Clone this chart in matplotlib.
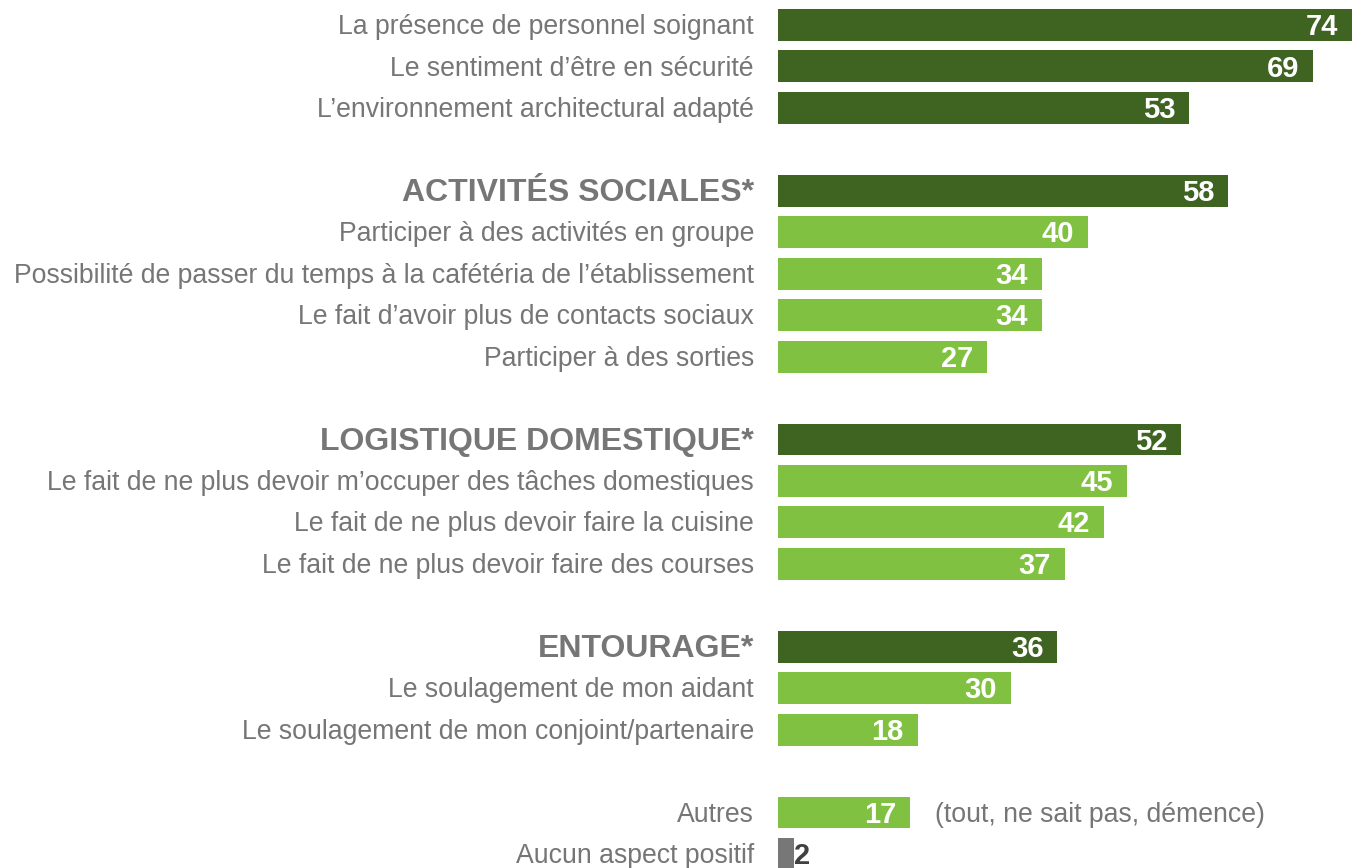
import matplotlib
matplotlib.use("Agg")
import matplotlib.pyplot as plt

plt.rcParams['font.family'] = ['Liberation Sans', 'DejaVu Sans']

# data, top to bottom
labels = [
    "La présence de personnel soignant",
    "Le sentiment d\u2019être en sécurité",
    "L\u2019environnement architectural adapté",
    "ACTIVITÉS SOCIALES*",
    "Participer à des activités en groupe",
    "Possibilité de passer du temps à la cafétéria de l\u2019établissement",
    "Le fait d\u2019avoir plus de contacts sociaux",
    "Participer à des sorties",
    "LOGISTIQUE DOMESTIQUE*",
    "Le fait de ne plus devoir m\u2019occuper des tâches domestiques",
    "Le fait de ne plus devoir faire la cuisine",
    "Le fait de ne plus devoir faire des courses",
    "ENTOURAGE*",
    "Le soulagement de mon aidant",
    "Le soulagement de mon conjoint/partenaire",
    "Autres",
    "Aucun aspect positif",
]
values = [74, 69, 53, 58, 40, 34, 34, 27, 52, 45, 42, 37, 36, 30, 18, 17, 2]
kinds = ["main", "main", "main", "head", "sub", "sub", "sub", "sub",
         "head", "sub", "sub", "sub", "head", "sub", "sub", "sub", "none"]
rows = [0, 1, 2, 4, 5, 6, 7, 8, 10, 11, 12, 13, 15, 16, 17, 19, 20]
note_autres = "(tout, ne sait pas, démence)"

dark = "#3F6321"
light = "#80C141"
grey_bar = "#777777"
txt_grey = "#767676"

colors = {"main": dark, "head": dark, "sub": light, "none": grey_bar}

fig = plt.figure(figsize=(13.52, 8.68), dpi=100)
ax = fig.add_axes([778 / 1352, 0, 1 - 778 / 1352, 1])
ax.set_xlim(0, 74)
ax.set_ylim(20.338, -0.603)
ax.axis("off")

ax.barh(rows, values, height=0.77, color=[colors[k] for k in kinds])

dy = 0.05  # text sits a touch below the bar centre
for r, v, lab, k in zip(rows, values, labels, kinds):
    if k == "head":
        ax.text(-3.1, r + dy, lab, ha="right", va="center", fontsize=23,
                fontweight="bold", color=txt_grey, clip_on=False)
    else:
        ax.text(-3.1, r + dy, lab, ha="right", va="center", fontsize=19.2,
                color=txt_grey, clip_on=False)
    if k == "none":
        ax.text(v + 0.1, r + dy, str(v), ha="left", va="center", fontsize=21,
                fontweight="bold", color="#404040")
    else:
        ax.text(v - 1.8, r + dy, str(v), ha="right", va="center", fontsize=21,
                fontweight="bold", color="white")

ax.text(values[15] + 3.2, rows[15] + dy, note_autres, ha="left", va="center",
        fontsize=19.2, color=txt_grey)

fig.savefig("out.png", dpi=100)
